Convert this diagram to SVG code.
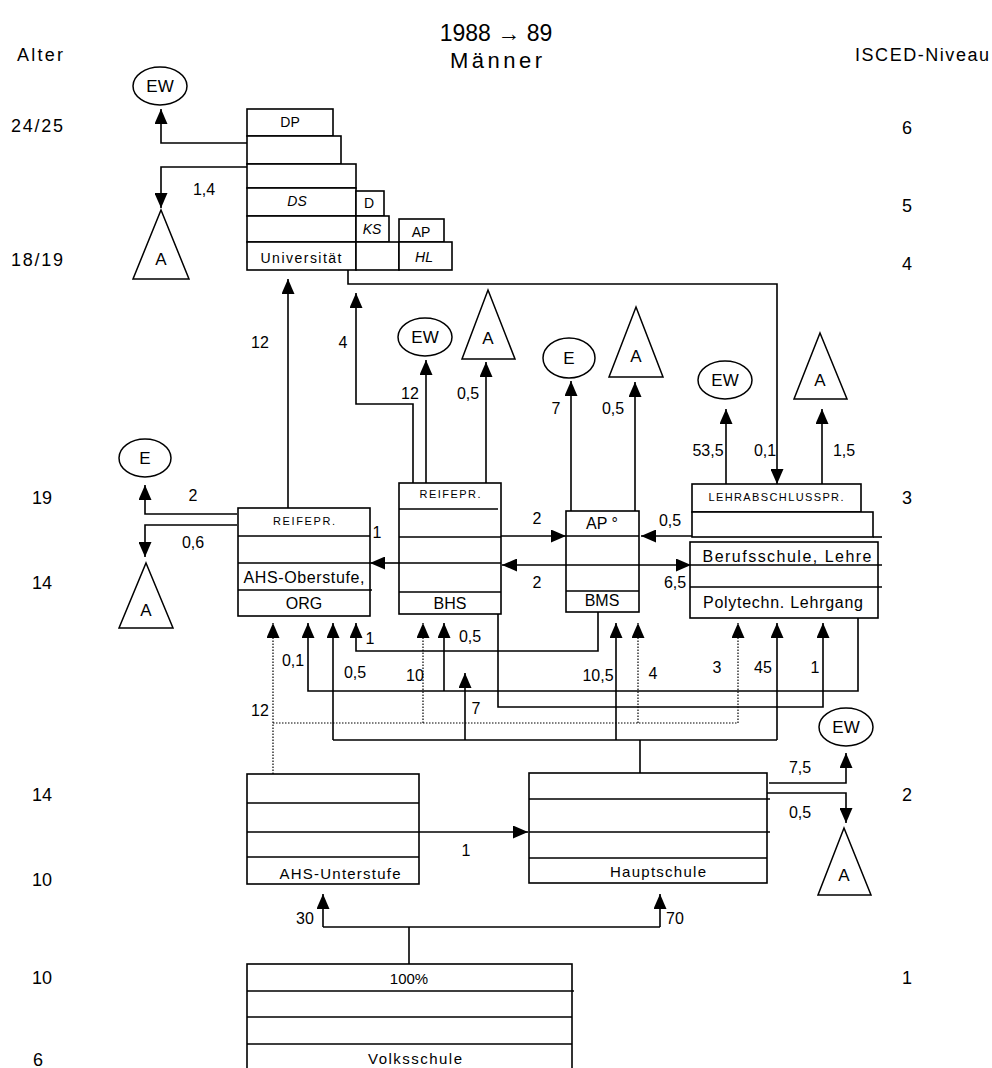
<svg xmlns="http://www.w3.org/2000/svg" width="992" height="1068" viewBox="0 0 992 1068">
<style>
text{font-family:"Liberation Sans",Arial,sans-serif;fill:#000;text-anchor:middle;dominant-baseline:central}
.t{font-size:18px}
.l{font-size:16px}
.b{font-size:15px}
.s{font-size:14px}
.xs{font-size:11px}
.i{font-style:italic}
.box rect,.box path{fill:none;stroke:#000;stroke-width:1.6}
.box rect{fill:#fff}
.sh ellipse,.sh polygon{fill:#fff;stroke:#000;stroke-width:1.5}
.sh text{font-size:17px}
#conn path{fill:none;stroke:#000;stroke-width:1.6}
#conn path.d{stroke-width:1.2;stroke-dasharray:1.5 1.5}
</style>
<defs>
<marker id="ah" markerUnits="userSpaceOnUse" markerWidth="15" markerHeight="13" viewBox="0 0 15 13" refX="15" refY="6.5" orient="auto"><path d="M0,0 L15,6.5 L0,13 z" fill="#000"/></marker>
</defs>
<rect width="992" height="1068" fill="#fff"/>

<g id="header">
<text x="496" y="33" style="font-size:23px">1988 → 89</text>
<text x="496" y="60" style="font-size:22px" textLength="92" lengthAdjust="spacing">Männer</text>
<text x="40" y="55" class="t" textLength="46" lengthAdjust="spacing">Alter</text>
<text x="922" y="55" class="t" textLength="134" lengthAdjust="spacing">ISCED-Niveau</text>
</g>

<g id="age-labels">
<text x="37" y="126" class="t" textLength="52" lengthAdjust="spacing">24/25</text>
<text x="37" y="260" class="t" textLength="52" lengthAdjust="spacing">18/19</text>
<text x="42" y="498" class="t">19</text>
<text x="42" y="583" class="t">14</text>
<text x="42" y="795" class="t">14</text>
<text x="42" y="880" class="t">10</text>
<text x="42" y="978" class="t">10</text>
<text x="38" y="1060" class="t">6</text>
</g>
<g id="isced-labels">
<text x="907" y="128" class="t">6</text>
<text x="907" y="206" class="t">5</text>
<text x="907" y="264" class="t">4</text>
<text x="907" y="498" class="t">3</text>
<text x="907" y="795" class="t">2</text>
<text x="907" y="978" class="t">1</text>
</g>

<g id="conn">
<path d="M247,143 H161 V109" marker-end="url(#ah)"/>
<path d="M247,167 H161 V208" marker-end="url(#ah)"/>
<path d="M348,270 V284 H777 V484" marker-end="url(#ah)"/>
<path d="M288,508 V279" marker-end="url(#ah)"/>
<path d="M413,483 V404 H356 V293" marker-end="url(#ah)"/>
<path d="M426,483 V360" marker-end="url(#ah)"/>
<path d="M486,483 V362" marker-end="url(#ah)"/>
<path d="M571,511 V381" marker-end="url(#ah)"/>
<path d="M635,511 V382" marker-end="url(#ah)"/>
<path d="M726,484 V409" marker-end="url(#ah)"/>
<path d="M822,484 V409" marker-end="url(#ah)"/>
<path d="M237,514 H145 V485" marker-end="url(#ah)"/>
<path d="M237,525 H145 V557" marker-end="url(#ah)"/>
<path d="M399,563 H370" marker-end="url(#ah)"/>
<path d="M501,536 H566" marker-end="url(#ah)"/>
<path d="M692,536 H641" marker-end="url(#ah)"/>
<path d="M600,565 H502" marker-end="url(#ah)"/>
<path d="M600,565 H691" marker-end="url(#ah)"/>
<path class="d" d="M273,774 V623" marker-end="url(#ah)"/>
<path class="d" d="M273,723 H738 V623" marker-end="url(#ah)"/>
<path class="d" d="M423,723 V623" marker-end="url(#ah)"/>
<path class="d" d="M638,723 V623" marker-end="url(#ah)"/>
<path d="M640,773 V740"/>
<path d="M333,740 H777"/>
<path d="M333,740 V623" marker-end="url(#ah)"/>
<path d="M465,740 V673" marker-end="url(#ah)"/>
<path d="M616,740 V623" marker-end="url(#ah)"/>
<path d="M777,740 V623" marker-end="url(#ah)"/>
<path d="M858,612 V691 H308 V623" marker-end="url(#ah)"/>
<path d="M444,691 V623" marker-end="url(#ah)"/>
<path d="M498,614 V707 H823 V623" marker-end="url(#ah)"/>
<path d="M598,612 V651 H356 V623" marker-end="url(#ah)"/>
<path d="M419,832 H528" marker-end="url(#ah)"/>
<path d="M769,783 H846 V753" marker-end="url(#ah)"/>
<path d="M766,793 H846 V823" marker-end="url(#ah)"/>
<path d="M409,964 V927"/>
<path d="M323,927 H660"/>
<path d="M323,927 V894" marker-end="url(#ah)"/>
<path d="M660,927 V894" marker-end="url(#ah)"/>
</g>

<g id="conn-labels">
<text x="204" y="189" class="l">1,4</text>
<text x="260" y="342" class="l">12</text>
<text x="343" y="342" class="l">4</text>
<text x="410" y="393" class="l">12</text>
<text x="468" y="393" class="l">0,5</text>
<text x="556" y="408" class="l">7</text>
<text x="613" y="408" class="l">0,5</text>
<text x="708" y="450" class="l">53,5</text>
<text x="765" y="450" class="l">0,1</text>
<text x="844" y="450" class="l">1,5</text>
<text x="193" y="495" class="l">2</text>
<text x="193" y="542" class="l">0,6</text>
<text x="377" y="532" class="l">1</text>
<text x="537" y="518" class="l">2</text>
<text x="670" y="520" class="l">0,5</text>
<text x="537" y="582" class="l">2</text>
<text x="675" y="582" class="l">6,5</text>
<text x="293" y="660" class="l">0,1</text>
<text x="355" y="672" class="l">0,5</text>
<text x="370" y="638" class="l">1</text>
<text x="415" y="675" class="l">10</text>
<text x="470" y="636" class="l">0,5</text>
<text x="476" y="708" class="l">7</text>
<text x="598" y="675" class="l">10,5</text>
<text x="653" y="673" class="l">4</text>
<text x="717" y="667" class="l">3</text>
<text x="763" y="667" class="l">45</text>
<text x="815" y="667" class="l">1</text>
<text x="260" y="710" class="l">12</text>
<text x="466" y="850" class="l">1</text>
<text x="800" y="767" class="l">7,5</text>
<text x="800" y="812" class="l">0,5</text>
<text x="305" y="918" class="l">30</text>
<text x="675" y="918" class="l">70</text>
</g>

<g id="universitaet" class="box">
<rect x="247" y="109" width="86" height="27"/>
<rect x="247" y="136" width="94" height="28"/>
<rect x="247" y="164" width="109" height="24"/>
<rect x="247" y="188" width="109" height="28"/>
<rect x="247" y="216" width="109" height="26"/>
<rect x="247" y="242" width="109" height="28"/>
<rect x="356" y="191" width="28" height="25"/>
<rect x="356" y="216" width="33" height="26"/>
<rect x="399" y="219" width="45" height="23"/>
<rect x="356" y="242" width="43" height="28"/>
<rect x="399" y="242" width="53" height="28"/>
<text x="290" y="122" class="s">DP</text>
<text x="297" y="201" class="s i">DS</text>
<text x="301" y="258" class="s" textLength="81" lengthAdjust="spacing">Universität</text>
<text x="369" y="203" class="s">D</text>
<text x="372" y="229" class="s i">KS</text>
<text x="421" y="232" class="s">AP</text>
<text x="424" y="257" class="s i">HL</text>
</g>

<g id="ahs-oberstufe" class="box">
<rect x="238" y="508" width="132" height="108"/>
<path d="M238,536 H370 M238,563 H370 M238,590 H372"/>
<text x="304" y="521" class="xs" textLength="62" lengthAdjust="spacing">REIFEPR.</text>
<text x="304" y="577" class="l" textLength="121" lengthAdjust="spacing">AHS-Oberstufe,</text>
<text x="304" y="603" class="l">ORG</text>
</g>

<g id="bhs" class="box">
<rect x="399" y="483" width="102" height="131"/>
<path d="M399,509 H498 M399,537 H501 M399,563 H501 M399,592 H501"/>
<text x="450" y="494" class="xs" textLength="61" lengthAdjust="spacing">REIFEPR.</text>
<text x="450" y="603" class="l">BHS</text>
</g>

<g id="bms" class="box">
<rect x="566" y="511" width="73" height="101"/>
<path d="M566,536 H639 M566,565 H639 M566,591 H639"/>
<text x="602" y="523" class="l">AP °</text>
<text x="602" y="600" class="l">BMS</text>
</g>

<g id="lehrabschluss" class="box">
<rect x="692" y="484" width="169" height="28"/>
<rect x="692" y="512" width="181" height="25"/>
<path d="M873,537 H882"/>
<text x="776" y="497" class="xs" textLength="135" lengthAdjust="spacing">LEHRABSCHLUSSPR.</text>
</g>

<g id="berufsschule" class="box">
<rect x="690" y="542" width="188" height="76"/>
<path d="M690,565 H882 M690,587 H882"/>
<text x="787" y="556" class="l" textLength="169" lengthAdjust="spacing">Berufsschule, Lehre</text>
<text x="783" y="602" class="l" textLength="160" lengthAdjust="spacing">Polytechn. Lehrgang</text>
</g>

<g id="ahs-unterstufe" class="box">
<rect x="247" y="774" width="172" height="110"/>
<path d="M247,803 H419 M247,832 H419 M247,857 H419"/>
<text x="340" y="873" class="b" textLength="121" lengthAdjust="spacing">AHS-Unterstufe</text>
</g>

<g id="hauptschule" class="box">
<rect x="529" y="773" width="238" height="110"/>
<path d="M529,799 H770 M529,832 H770 M529,858 H767"/>
<text x="658" y="871" class="b" textLength="96" lengthAdjust="spacing">Hauptschule</text>
</g>

<g id="volksschule" class="box">
<rect x="247" y="964" width="325" height="120"/>
<path d="M247,991 H574 M247,1017 H572 M247,1044 H572"/>
<text x="409" y="978" class="b">100%</text>
<text x="415" y="1058" class="b" textLength="94" lengthAdjust="spacing">Volksschule</text>
</g>

<g id="exits" class="sh">
<g id="ew1"><ellipse cx="160" cy="86" rx="27" ry="19"/><text x="160" y="86">EW</text></g>
<g id="a1"><polygon points="161,210 189,279 133,279"/><text x="161" y="259">A</text></g>
<g id="ew2"><ellipse cx="425" cy="337" rx="27" ry="19"/><text x="425" y="337">EW</text></g>
<g id="a2"><polygon points="488,290 515,359 462,359"/><text x="488" y="338">A</text></g>
<g id="e1"><ellipse cx="569" cy="358" rx="26" ry="20"/><text x="569" y="358">E</text></g>
<g id="a3"><polygon points="636,307 663,377 609,377"/><text x="636" y="356">A</text></g>
<g id="ew3"><ellipse cx="725" cy="380" rx="27" ry="19"/><text x="725" y="380">EW</text></g>
<g id="a4"><polygon points="820,333 847,399 794,399"/><text x="820" y="380">A</text></g>
<g id="e2"><ellipse cx="145" cy="458" rx="26" ry="19"/><text x="145" y="458">E</text></g>
<g id="a5"><polygon points="146,563 173,628 119,628"/><text x="146" y="610">A</text></g>
<g id="ew4"><ellipse cx="846" cy="727" rx="27" ry="19"/><text x="846" y="727">EW</text></g>
<g id="a6"><polygon points="844,828 871,895 818,895"/><text x="844" y="875">A</text></g>
</g>
</svg>
